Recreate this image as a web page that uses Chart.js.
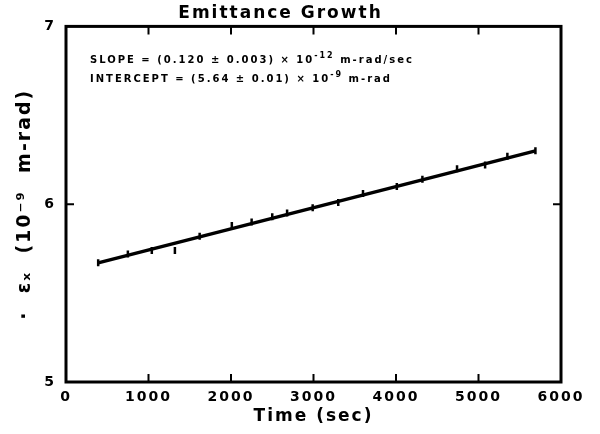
<!DOCTYPE html>
<html>
<head>
<meta charset="utf-8">
<script src="https://cdn.jsdelivr.net/npm/chart.js@4"></script>
<style>
  html, body { margin: 0; padding: 0; background: #fff; }
  #wrap { width: 600px; height: 434px; }
</style>
</head>
<body>
<div id="wrap"><canvas id="growthChart"></canvas></div>
<script>
// measured emittance points (time in sec, emittance in 1e-9 m-rad)
const timeSec = [390, 750, 1040, 1320, 1620, 2010, 2250, 2500, 2680, 2990, 3300, 3600, 4010, 4320, 4740, 5080, 5350, 5690];
const emittance = [5.67, 5.72, 5.74, 5.74, 5.82, 5.88, 5.90, 5.93, 5.95, 5.98, 6.01, 6.06, 6.10, 6.14, 6.20, 6.22, 6.27, 6.30];

// straight-line fit drawn across the data
const fitTime = [390, 5690];
const fitValue = [5.67, 6.30];

const xTicks = [0, 1000, 2000, 3000, 4000, 5000, 6000];
const yTicks = [5, 6, 7];

const ink = '#000';

// thick frame + inward tick marks + fit-result text
const framePlugin = {
    id: 'frame',
    beforeDraw(chart) {
        chart.ctx.letterSpacing = '2px';
    },
    afterDraw(chart) {
        const ctx = chart.ctx;
        const area = chart.chartArea;
        const xs = chart.scales.x;
        const ys = chart.scales.y;
        ctx.save();
        ctx.strokeStyle = ink;
        ctx.lineWidth = 3;
        ctx.strokeRect(area.left, area.top, area.right - area.left, area.bottom - area.top);

        ctx.lineWidth = 2;
        ctx.beginPath();
        xTicks.slice(1, -1).forEach(v => {
            const px = xs.getPixelForValue(v);
            ctx.moveTo(px, area.bottom); ctx.lineTo(px, area.bottom - 8);
            ctx.moveTo(px, area.top); ctx.lineTo(px, area.top + 8);
        });
        yTicks.slice(1, -1).forEach(v => {
            const py = ys.getPixelForValue(v);
            ctx.moveTo(area.left, py); ctx.lineTo(area.left + 8, py);
            ctx.moveTo(area.right, py); ctx.lineTo(area.right - 8, py);
        });
        ctx.stroke();

        // fit result lines
        ctx.fillStyle = ink;
        ctx.textBaseline = 'alphabetic';
        ctx.letterSpacing = '2px';
        const lines = [
            ['SLOPE = (0.120 ± 0.003) × 10', '-12', ' m-rad/sec'],
            ['INTERCEPT = (5.64 ± 0.01) × 10', '-9', ' m-rad']
        ];
        let y = area.top + 37;
        lines.forEach(parts => {
            let x = area.left + 24;
            ctx.font = 'bold 10px "DejaVu Sans"';
            ctx.fillText(parts[0], x, y);
            x += ctx.measureText(parts[0]).width;
            ctx.font = 'bold 8px "DejaVu Sans"';
            ctx.fillText(parts[1], x, y - 5);
            x += ctx.measureText(parts[1]).width;
            ctx.font = 'bold 10px "DejaVu Sans"';
            ctx.fillText(parts[2], x, y);
            y += 19;
        });
        ctx.restore();
    }
};

const ctx = document.getElementById('growthChart').getContext('2d');
new Chart(ctx, {
    type: 'scatter',
    data: {
        datasets: [
            {
                label: 'fit',
                data: fitTime.map((t, i) => ({ x: t, y: fitValue[i] })),
                showLine: true,
                borderColor: ink,
                borderWidth: 3.5,
                pointRadius: 0
            },
            {
                label: 'measured',
                data: timeSec.map((t, i) => ({ x: t, y: emittance[i] })),
                showLine: false,
                pointStyle: 'line',
                rotation: 90,
                pointRadius: 3.5,
                borderColor: ink,
                backgroundColor: ink,
                borderWidth: 2.5
            }
        ]
    },
    plugins: [framePlugin],
    options: {
        responsive: true,
        maintainAspectRatio: false,
        animation: false,
        layout: { padding: { left: 0, right: 39, top: 0, bottom: 0 } },
        plugins: {
            legend: { display: false },
            tooltip: { enabled: false },
            title: {
                display: true,
                text: 'Emittance Growth',
                color: ink,
                font: { family: 'DejaVu Sans', size: 17, weight: 'bold' },
                padding: { top: 3, bottom: 3 }
            }
        },
        scales: {
            x: {
                type: 'linear',
                min: 0,
                max: 6000,
                afterFit(scale) { scale.height = 52; },
                afterBuildTicks(scale) { scale.ticks = xTicks.map(v => ({ value: v })); },
                grid: { display: false, drawTicks: false },
                border: { display: false },
                ticks: {
                    color: ink,
                    padding: 7,
                    maxRotation: 0,
                    callback: v => String(v),
                    font: { family: 'DejaVu Sans', size: 14, weight: 'bold' }
                },
                title: {
                    display: true,
                    text: 'Time (sec)',
                    color: ink,
                    font: { family: 'DejaVu Sans', size: 17, weight: 'bold' },
                    padding: { top: 0, bottom: 7 }
                }
            },
            y: {
                type: 'linear',
                min: 5,
                max: 7,
                afterFit(scale) { scale.width = 66; },
                afterBuildTicks(scale) { scale.ticks = yTicks.map(v => ({ value: v })); },
                grid: { display: false, drawTicks: false },
                border: { display: false },
                ticks: {
                    color: ink,
                    padding: 10,
                    callback: v => String(v),
                    font: { family: 'DejaVu Sans', size: 14, weight: 'bold' }
                },
                title: {
                    display: true,
                    text: '·  εₓ  (10⁻⁹  m-rad)',
                    color: ink,
                    font: { family: 'DejaVu Sans', size: 19, weight: 'bold' },
                    padding: { top: 14, bottom: 0 }
                }
            }
        }
    }
});
</script>
</body>
</html>
